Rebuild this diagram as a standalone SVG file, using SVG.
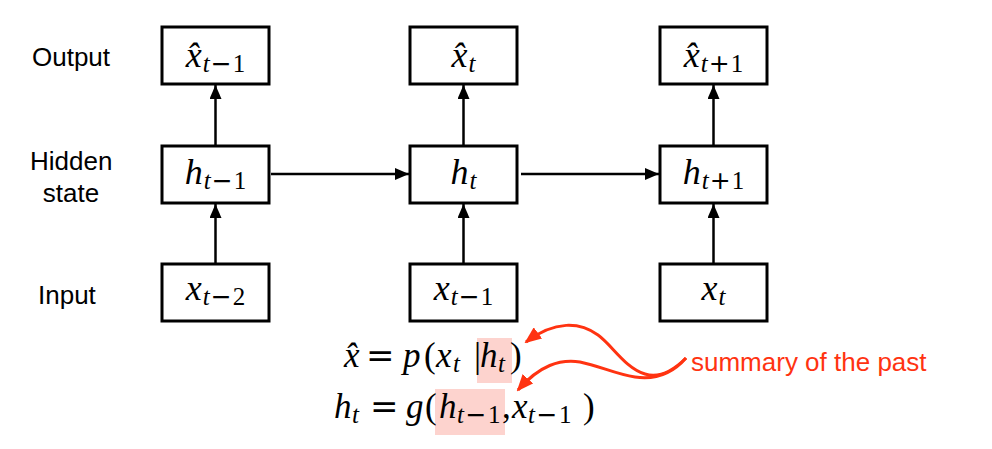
<svg xmlns="http://www.w3.org/2000/svg" width="992" height="449" viewBox="0 0 992 449">
<defs>
<marker id="ah" markerUnits="userSpaceOnUse" markerWidth="14" markerHeight="12" refX="14" refY="6" orient="auto"><path d="M0,0 L14,6 L0,12 z" fill="#000"/></marker>
<marker id="rh" markerUnits="userSpaceOnUse" markerWidth="17" markerHeight="14" refX="15" refY="7" orient="auto"><path d="M0,0 L17,7 L0,14 z" fill="#ff3311"/></marker>
</defs>
<rect width="992" height="449" fill="#fff"/>

<g id="row-labels">
<text x="32" y="66" font-family="Liberation Sans" font-size="26">Output</text>
<text x="30" y="170" font-family="Liberation Sans" font-size="26">Hidden</text>
<text x="71" y="202" font-family="Liberation Sans" font-size="26" text-anchor="middle">state</text>
<text x="38" y="304" font-family="Liberation Sans" font-size="26">Input</text>
</g>

<g id="connectors" stroke="#000" stroke-width="2.5" fill="none">
<line x1="215.5" y1="146" x2="215.5" y2="85" marker-end="url(#ah)"/>
<line x1="215.5" y1="264" x2="215.5" y2="204" marker-end="url(#ah)"/>
<line x1="463.5" y1="146" x2="463.5" y2="85" marker-end="url(#ah)"/>
<line x1="463.5" y1="264" x2="463.5" y2="204" marker-end="url(#ah)"/>
<line x1="713.5" y1="146" x2="713.5" y2="85" marker-end="url(#ah)"/>
<line x1="713.5" y1="264" x2="713.5" y2="204" marker-end="url(#ah)"/>
<line x1="271" y1="174" x2="409" y2="174" marker-end="url(#ah)"/>
<line x1="521" y1="174" x2="659" y2="174" marker-end="url(#ah)"/>
<path stroke="#ff3311" stroke-width="3" d="M686,358 C672,372 658,378 645,374 C625,368 612,345 598,335 C580,322 555,320 526,342" marker-end="url(#rh)"/>
<path stroke="#ff3311" stroke-width="3" d="M686,358 C672,374 655,380 635,377 C615,374 600,366 580,362 C560,359 540,365 518,390" marker-end="url(#rh)"/>
</g>

<g id="out1"><rect x="162" y="27" width="107" height="57" fill="#fff" stroke="#000" stroke-width="3"/>
<text x="215.5" y="67" text-anchor="middle" font-family="Liberation Serif" font-size="36"><tspan font-style="italic">x̂</tspan><tspan font-size="25" dx="1" dy="5"><tspan font-style="italic">t</tspan><tspan font-family="DejaVu Sans" dx="1">−</tspan><tspan dx="1">1</tspan></tspan></text></g>
<g id="out2"><rect x="410" y="27" width="107" height="57" fill="#fff" stroke="#000" stroke-width="3"/>
<text x="463.5" y="67" text-anchor="middle" font-family="Liberation Serif" font-size="36"><tspan font-style="italic">x̂</tspan><tspan font-size="25" font-style="italic" dx="1" dy="5">t</tspan></text></g>
<g id="out3"><rect x="660" y="27" width="107" height="57" fill="#fff" stroke="#000" stroke-width="3"/>
<text x="713.5" y="67" text-anchor="middle" font-family="Liberation Serif" font-size="36"><tspan font-style="italic">x̂</tspan><tspan font-size="25" dx="1" dy="5"><tspan font-style="italic">t</tspan><tspan font-family="DejaVu Sans" dx="1">+</tspan><tspan dx="1">1</tspan></tspan></text></g>

<g id="hid1"><rect x="162" y="146" width="107" height="57" fill="#fff" stroke="#000" stroke-width="3"/>
<text x="215.5" y="184" text-anchor="middle" font-family="Liberation Serif" font-size="36"><tspan font-style="italic">h</tspan><tspan font-size="25" dx="1" dy="5"><tspan font-style="italic">t</tspan><tspan font-family="DejaVu Sans" dx="1">−</tspan><tspan dx="1">1</tspan></tspan></text></g>
<g id="hid2"><rect x="410" y="146" width="107" height="57" fill="#fff" stroke="#000" stroke-width="3"/>
<text x="463.5" y="184" text-anchor="middle" font-family="Liberation Serif" font-size="36"><tspan font-style="italic">h</tspan><tspan font-size="25" font-style="italic" dx="1" dy="5">t</tspan></text></g>
<g id="hid3"><rect x="660" y="146" width="107" height="57" fill="#fff" stroke="#000" stroke-width="3"/>
<text x="713.5" y="184" text-anchor="middle" font-family="Liberation Serif" font-size="36"><tspan font-style="italic">h</tspan><tspan font-size="25" dx="1" dy="5"><tspan font-style="italic">t</tspan><tspan font-family="DejaVu Sans" dx="1">+</tspan><tspan dx="1">1</tspan></tspan></text></g>

<g id="in1"><rect x="162" y="264" width="107" height="57" fill="#fff" stroke="#000" stroke-width="3"/>
<text x="215.5" y="300" text-anchor="middle" font-family="Liberation Serif" font-size="36"><tspan font-style="italic">x</tspan><tspan font-size="25" dx="1" dy="5"><tspan font-style="italic">t</tspan><tspan font-family="DejaVu Sans" dx="1">−</tspan><tspan dx="1">2</tspan></tspan></text></g>
<g id="in2"><rect x="410" y="264" width="107" height="57" fill="#fff" stroke="#000" stroke-width="3"/>
<text x="463.5" y="300" text-anchor="middle" font-family="Liberation Serif" font-size="36"><tspan font-style="italic">x</tspan><tspan font-size="25" dx="1" dy="5"><tspan font-style="italic">t</tspan><tspan font-family="DejaVu Sans" dx="1">−</tspan><tspan dx="1">1</tspan></tspan></text></g>
<g id="in3"><rect x="660" y="264" width="107" height="57" fill="#fff" stroke="#000" stroke-width="3"/>
<text x="713.5" y="300" text-anchor="middle" font-family="Liberation Serif" font-size="36"><tspan font-style="italic">x</tspan><tspan font-size="25" font-style="italic" dx="1" dy="5">t</tspan></text></g>

<g id="equations">
<rect x="477" y="338" width="35" height="45" fill="#fdd3ce"/>
<rect x="435" y="389" width="70" height="46" fill="#fdd3ce"/>
<text x="344" y="367" font-family="Liberation Serif" font-size="35" font-style="italic">x̂</text>
<text x="366" y="367" font-family="DejaVu Sans" font-size="34">=</text>
<text x="403" y="367" font-family="Liberation Serif" font-size="35" font-style="italic">p</text>
<text x="424" y="367" font-family="Liberation Serif" font-size="35">(</text>
<text x="436" y="367" font-family="Liberation Serif" font-size="35" font-style="italic">x</text>
<text x="453" y="372" font-family="Liberation Serif" font-size="25" font-style="italic">t</text>
<text x="474" y="367" font-family="Liberation Serif" font-size="35">|</text>
<text x="480" y="367" font-family="Liberation Serif" font-size="35" font-style="italic">h</text>
<text x="498" y="372" font-family="Liberation Serif" font-size="25" font-style="italic">t</text>
<text x="510" y="367" font-family="Liberation Serif" font-size="35">)</text>

<text x="334" y="418" font-family="Liberation Serif" font-size="35" font-style="italic">h</text>
<text x="352" y="423" font-family="Liberation Serif" font-size="25" font-style="italic">t</text>
<text x="370" y="418" font-family="DejaVu Sans" font-size="34">=</text>
<text x="406" y="418" font-family="Liberation Serif" font-size="35" font-style="italic">g</text>
<text x="425" y="418" font-family="Liberation Serif" font-size="35">(</text>
<text x="439" y="418" font-family="Liberation Serif" font-size="35" font-style="italic">h</text>
<text x="457" y="423" font-family="Liberation Serif" font-size="25"><tspan font-style="italic">t</tspan><tspan font-family="DejaVu Sans" dx="1.5">−</tspan><tspan dx="1.5">1</tspan></text>
<text x="502" y="418" font-family="Liberation Serif" font-size="35">,</text>
<text x="512" y="418" font-family="Liberation Serif" font-size="35" font-style="italic">x</text>
<text x="528" y="423" font-family="Liberation Serif" font-size="25"><tspan font-style="italic">t</tspan><tspan font-family="DejaVu Sans" dx="1.5">−</tspan><tspan dx="1.5">1</tspan></text>
<text x="583" y="418" font-family="Liberation Serif" font-size="35">)</text>
</g>

<g id="note">
<text x="691" y="371" font-family="Liberation Sans" font-size="26" fill="#ff3311">summary of the past</text>
</g>
</svg>
